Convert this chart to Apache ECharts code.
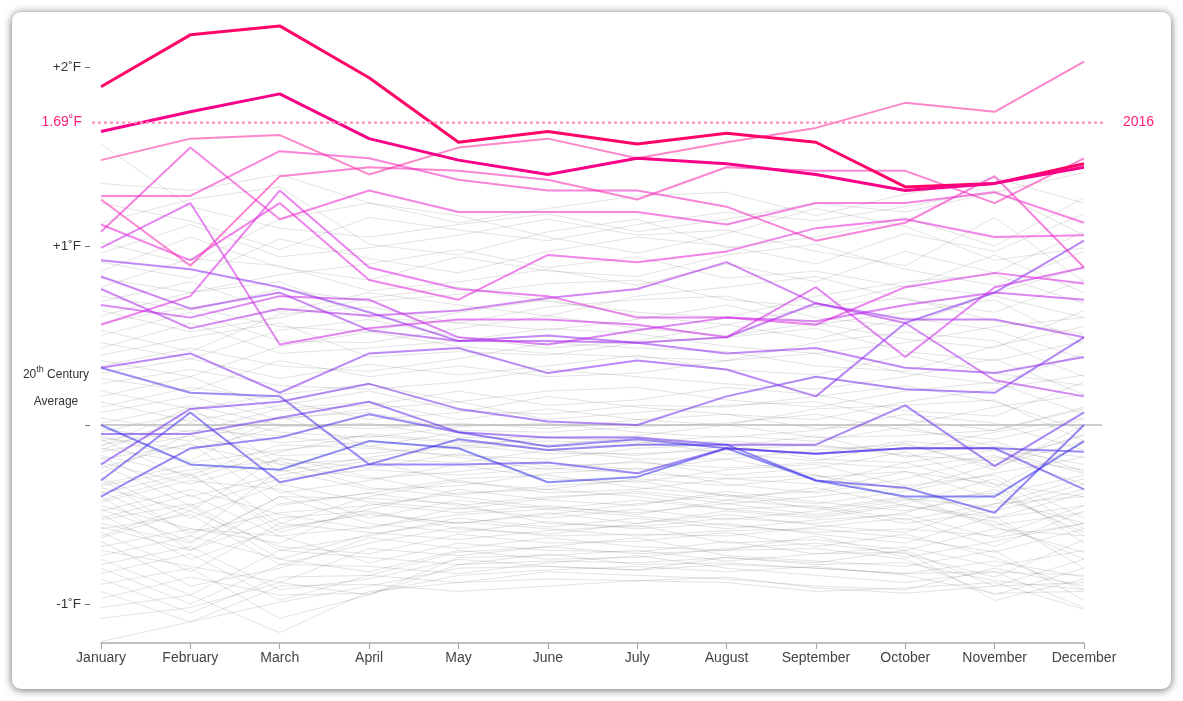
<!DOCTYPE html>
<html>
<head>
<meta charset="utf-8">
<script src="https://cdn.jsdelivr.net/npm/echarts@6/dist/echarts.min.js"></script>
<style>
html,body{margin:0;padding:0;background:#fff;width:1183px;height:701px;overflow:hidden;}
#card{position:absolute;left:12px;top:12px;width:1159px;height:677px;border-radius:9px;background:#fff;box-shadow:0 1px 9px rgba(0,0,0,0.6);}
#chart{position:absolute;left:0;top:0;width:1183px;height:701px;}
</style>
</head>
<body>
<div id="card"></div>
<div id="chart"></div>
<script>
// ---------- data ----------
const months = ['January','February','March','April','May','June','July','August','September','October','November','December'];
const yTickValues = [-1, 0, 1, 2];
const yLabelValues = [-1, 1, 2];
const yLabelTexts = ['-1˚F', '+1˚F', '+2˚F'];
const recordValue = 1.69;
const recordLabel = '1.69˚F';
const recordYear = '2016';
const baselineLine1 = '20';
const baselineSup = 'th';
const baselineLine1b = ' Century';
const baselineLine2 = 'Average';

// older years (gray), monthly anomaly in °F
const historicYears = [
[1.57,1.22,1.10,1.05,1.12,1.18,1.08,1.15,1.24,1.19,1.30,1.41],
[1.35,1.31,1.40,1.24,1.13,1.21,1.28,1.30,1.17,1.29,1.38,1.24],
[1.24,1.14,0.98,1.16,1.09,1.03,1.12,1.19,1.14,1.22,1.31,1.06],
[1.13,1.26,1.33,1.01,0.95,1.08,1.15,0.99,1.05,1.16,1.00,1.27],
[1.02,0.90,1.15,1.24,1.17,1.05,0.96,1.07,1.21,1.11,0.92,0.99],
[0.96,1.12,0.94,0.99,1.06,1.15,1.06,1.09,0.97,0.89,1.16,0.80],
[0.91,0.82,1.04,0.93,0.85,0.97,1.05,1.00,0.90,1.07,0.97,1.18],
[0.86,1.05,0.88,0.81,0.94,0.86,0.83,0.95,1.01,0.87,0.78,0.97],
[0.82,0.74,0.84,0.90,0.98,0.88,0.94,0.82,0.86,0.77,0.95,0.74],
[0.77,0.93,0.89,0.75,0.80,0.87,0.78,0.90,0.80,0.97,0.85,1.08],
[0.72,0.64,0.76,0.69,0.73,0.79,0.81,0.70,0.66,0.78,0.72,0.60],
[0.69,0.80,0.63,0.74,0.67,0.61,0.72,0.77,0.83,0.70,0.63,0.81],
[0.64,0.52,0.60,0.71,0.77,0.69,0.63,0.60,0.72,0.80,0.84,0.68],
[0.61,0.74,0.80,0.60,0.57,0.66,0.70,0.72,0.60,0.55,0.74,0.88],
[0.57,0.66,0.55,0.52,0.63,0.70,0.61,0.56,0.66,0.71,0.58,0.51],
[0.53,0.41,0.62,0.66,0.57,0.53,0.59,0.67,0.56,0.63,0.70,0.45],
[0.50,0.63,0.47,0.46,0.54,0.61,0.54,0.50,0.57,0.48,0.43,0.64],
[0.46,0.37,0.53,0.59,0.49,0.43,0.47,0.56,0.48,0.60,0.53,0.37],
[0.43,0.57,0.40,0.43,0.47,0.54,0.51,0.44,0.40,0.46,0.55,0.60],
[0.39,0.49,0.57,0.38,0.41,0.39,0.46,0.49,0.54,0.41,0.36,0.47],
[0.36,0.27,0.44,0.52,0.44,0.40,0.38,0.36,0.46,0.52,0.47,0.27],
[0.33,0.43,0.33,0.30,0.37,0.46,0.43,0.41,0.33,0.30,0.44,0.55],
[0.29,0.37,0.26,0.34,0.28,0.33,0.39,0.31,0.28,0.39,0.29,0.22],
[0.26,0.19,0.36,0.27,0.33,0.27,0.29,0.36,0.40,0.29,0.23,0.40],
[0.23,0.31,0.22,0.20,0.24,0.31,0.27,0.23,0.20,0.27,0.37,0.17],
[0.19,0.09,0.17,0.23,0.13,0.19,0.21,0.14,0.10,0.19,0.24,0.06],
[0.16,0.27,0.08,0.11,0.19,0.11,0.14,0.21,0.17,0.08,0.05,0.24],
[0.13,0.02,0.11,0.19,0.08,0.06,0.11,0.10,0.16,0.22,0.13,-0.03],
[0.10,0.21,0.14,0.03,0.07,0.16,0.10,0.06,0.03,0.13,0.20,0.28],
[0.07,0.16,0.03,0.09,0.13,0.03,0.07,0.11,0.13,0.03,-0.03,0.10],
[0.04,-0.04,0.09,0.13,0.03,0.09,0.03,0.00,0.09,0.11,0.14,-0.09],
[0.01,0.11,0.00,-0.02,0.01,-0.02,0.03,0.06,-0.02,0.00,0.10,0.17],
[-0.02,-0.09,0.04,0.07,-0.03,-0.04,-0.01,0.01,0.06,-0.03,-0.08,0.03],
[-0.04,0.07,-0.04,-0.07,-0.01,0.01,-0.04,-0.07,-0.03,0.06,0.01,-0.14],
[-0.07,-0.14,-0.01,0.01,-0.07,-0.07,-0.06,0.00,-0.07,-0.06,-0.03,0.09],
[-0.09,0.01,-0.10,-0.06,-0.10,-0.09,-0.10,-0.06,-0.09,-0.01,-0.12,-0.18],
[-0.11,-0.03,-0.06,-0.12,-0.04,-0.12,-0.11,-0.09,-0.12,-0.14,-0.04,0.04],
[-0.13,-0.21,-0.14,-0.09,-0.13,-0.11,-0.07,-0.13,-0.16,-0.09,-0.13,-0.22],
[-0.15,-0.06,-0.17,-0.16,-0.11,-0.16,-0.16,-0.14,-0.11,-0.17,-0.20,-0.06],
[-0.17,-0.28,-0.11,-0.13,-0.17,-0.19,-0.13,-0.11,-0.19,-0.21,-0.14,-0.27],
[-0.19,-0.11,-0.22,-0.19,-0.21,-0.14,-0.19,-0.19,-0.14,-0.11,-0.23,-0.09],
[-0.21,-0.33,-0.19,-0.24,-0.16,-0.23,-0.21,-0.24,-0.21,-0.24,-0.17,-0.33],
[-0.22,-0.45,-0.30,-0.25,-0.28,-0.24,-0.27,-0.30,-0.33,-0.21,-0.35,-0.10],
[-0.27,-0.05,-0.38,-0.31,-0.22,-0.30,-0.32,-0.25,-0.22,-0.34,-0.28,-0.52],
[-0.30,-0.62,-0.25,-0.36,-0.34,-0.27,-0.24,-0.33,-0.38,-0.30,-0.18,-0.25],
[-0.33,-0.22,-0.55,-0.40,-0.31,-0.38,-0.36,-0.30,-0.28,-0.41,-0.46,-0.33],
[-0.35,-0.48,-0.18,-0.29,-0.39,-0.34,-0.31,-0.40,-0.37,-0.26,-0.33,-0.66],
[-0.38,-0.27,-0.60,-0.47,-0.36,-0.42,-0.45,-0.37,-0.43,-0.48,-0.39,-0.28],
[-0.40,-0.70,-0.44,-0.38,-0.45,-0.40,-0.38,-0.44,-0.40,-0.35,-0.52,-0.45],
[-0.43,-0.31,-0.36,-0.52,-0.42,-0.47,-0.42,-0.47,-0.51,-0.44,-0.30,-0.58],
[-0.45,-0.58,-0.66,-0.44,-0.49,-0.45,-0.50,-0.42,-0.46,-0.55,-0.48,-0.36],
[-0.48,-0.36,-0.50,-0.58,-0.46,-0.52,-0.47,-0.53,-0.48,-0.41,-0.57,-0.71],
[-0.50,-0.75,-0.58,-0.49,-0.55,-0.49,-0.55,-0.50,-0.56,-0.60,-0.44,-0.40],
[-0.53,-0.44,-0.70,-0.62,-0.52,-0.57,-0.52,-0.58,-0.53,-0.50,-0.63,-0.55],
[-0.55,-0.66,-0.40,-0.55,-0.60,-0.54,-0.58,-0.55,-0.61,-0.66,-0.51,-0.80],
[-0.58,-0.50,-0.78,-0.66,-0.57,-0.62,-0.61,-0.62,-0.57,-0.52,-0.68,-0.48],
[-0.60,-0.82,-0.55,-0.60,-0.64,-0.59,-0.56,-0.66,-0.64,-0.70,-0.58,-0.62],
[-0.63,-0.48,-0.68,-0.72,-0.61,-0.66,-0.65,-0.60,-0.68,-0.61,-0.74,-0.92],
[-0.65,-0.90,-0.80,-0.63,-0.69,-0.63,-0.68,-0.70,-0.62,-0.74,-0.65,-0.55],
[-0.68,-0.58,-0.62,-0.77,-0.66,-0.70,-0.71,-0.65,-0.72,-0.68,-0.79,-0.70],
[-0.70,-0.79,-0.88,-0.69,-0.73,-0.68,-0.63,-0.73,-0.76,-0.79,-0.70,-0.98],
[-0.73,-0.62,-0.75,-0.82,-0.70,-0.75,-0.74,-0.69,-0.66,-0.72,-0.85,-0.64],
[-0.75,-0.95,-0.70,-0.74,-0.78,-0.72,-0.78,-0.77,-0.80,-0.83,-0.76,-0.85],
[-0.78,-0.68,-0.92,-0.86,-0.75,-0.79,-0.81,-0.74,-0.77,-0.70,-0.90,-0.75],
[-0.80,-1.00,-0.78,-0.79,-0.83,-0.77,-0.73,-0.80,-0.84,-0.88,-0.82,-1.02],
[-0.83,-0.72,-0.98,-0.84,-0.71,-0.68,-0.72,-0.70,-0.69,-0.75,-0.95,-0.80],
[-0.86,-1.05,-0.85,-0.84,-0.88,-0.82,-0.84,-0.86,-0.90,-0.92,-0.80,-0.90],
[-0.89,-0.80,-1.08,-0.95,-0.74,-0.73,-0.70,-0.76,-0.72,-0.71,-0.98,-0.86],
[-0.93,-1.10,-0.90,-0.89,-0.93,-0.90,-0.87,-0.88,-0.93,-0.91,-0.88,-1.03],
[-0.97,-0.85,-0.95,-0.94,-0.84,-0.81,-0.79,-0.82,-0.79,-0.84,-0.94,-0.93],
[-1.02,-0.95,-1.16,-0.93,-0.88,-0.86,-0.87,-0.85,-0.91,-0.94,-0.90,-0.88],
[-1.08,-1.02,-0.88,-0.95,-0.78,-0.76,-0.77,-0.74,-0.78,-0.77,-0.87,-0.92],
[-1.21,-1.10,-0.99,-0.90,-0.80,-0.79,-0.81,-0.78,-0.80,-0.83,-0.82,-0.84],
[-0.06,-0.20,0.05,-0.12,-0.18,-0.25,-0.20,-0.28,-0.24,-0.15,-0.33,-0.40],
[-0.12,0.10,-0.22,-0.30,-0.26,-0.21,-0.25,-0.19,-0.28,-0.36,-0.22,-0.05],
[-0.18,-0.40,-0.28,-0.20,-0.32,-0.36,-0.30,-0.34,-0.29,-0.26,-0.41,-0.55],
[-0.24,-0.10,-0.45,-0.38,-0.30,-0.28,-0.35,-0.39,-0.44,-0.37,-0.27,-0.18],
[-0.29,-0.52,-0.33,-0.43,-0.47,-0.41,-0.37,-0.42,-0.35,-0.45,-0.52,-0.38],
[-0.34,-0.25,-0.20,-0.35,-0.40,-0.46,-0.49,-0.44,-0.50,-0.42,-0.38,-0.60],
[-0.37,-0.60,-0.49,-0.45,-0.38,-0.36,-0.40,-0.47,-0.45,-0.53,-0.44,-0.30],
[-0.42,-0.28,-0.57,-0.50,-0.55,-0.50,-0.44,-0.39,-0.47,-0.40,-0.56,-0.49],
[-0.47,-0.65,-0.40,-0.41,-0.44,-0.55,-0.57,-0.52,-0.55,-0.49,-0.36,-0.62],
[-0.52,-0.39,-0.62,-0.57,-0.50,-0.47,-0.51,-0.56,-0.60,-0.58,-0.62,-0.45],
[-0.57,-0.70,-0.52,-0.48,-0.58,-0.61,-0.55,-0.48,-0.52,-0.45,-0.54,-0.75],
[-0.62,-0.45,-0.75,-0.61,-0.54,-0.58,-0.62,-0.59,-0.58,-0.63,-0.71,-0.58],
[-0.08,-0.30,-0.15,-0.05,-0.09,-0.14,-0.17,-0.12,-0.06,-0.18,-0.09,-0.26],
[-0.14,0.04,-0.26,-0.18,-0.12,-0.07,-0.09,-0.16,-0.20,-0.10,-0.25,0.00]
];

// recent years (coloured), monthly anomaly in °F
const recentYears = ['1998','1999','2000','2001','2002','2003','2004','2005','2006','2007','2008','2009','2010','2011','2012','2013','2014','2015','2016','2017'];
const recentValues = [
[0.00,-0.22,-0.25,-0.09,-0.13,-0.32,-0.29,-0.13,-0.31,-0.40,-0.40,-0.09],
[-0.31,0.07,-0.32,-0.22,-0.08,-0.14,-0.11,-0.11,-0.31,-0.35,-0.49,0.00],
[-0.40,-0.13,-0.07,0.06,-0.04,-0.12,-0.08,-0.13,-0.16,-0.13,-0.13,-0.15],
[0.32,0.18,0.16,-0.22,-0.22,-0.21,-0.27,-0.13,-0.16,-0.13,-0.13,-0.36],
[-0.05,-0.05,0.04,0.13,-0.04,-0.07,-0.07,-0.11,-0.11,0.11,-0.23,0.07],
[-0.22,0.09,0.13,0.23,0.09,0.02,0.00,0.16,0.27,0.20,0.18,0.49],
[0.32,0.40,0.18,0.40,0.43,0.29,0.36,0.31,0.16,0.57,0.74,1.03],
[0.92,0.87,0.77,0.63,0.47,0.50,0.46,0.40,0.43,0.32,0.29,0.38],
[0.83,0.65,0.74,0.53,0.47,0.47,0.46,0.49,0.68,0.59,0.59,0.49],
[0.76,0.54,0.65,0.61,0.64,0.71,0.76,0.91,0.68,0.57,0.25,0.16],
[0.67,0.60,0.72,0.70,0.49,0.45,0.53,0.60,0.58,0.67,0.74,0.70],
[0.99,1.24,0.45,0.54,0.59,0.59,0.56,0.49,0.77,0.38,0.77,0.88],
[0.56,0.72,1.31,0.88,0.76,0.72,0.60,0.60,0.56,0.77,0.85,0.79],
[1.12,0.92,1.24,0.81,0.70,0.95,0.91,0.97,1.10,1.15,1.05,1.06],
[1.08,1.55,1.15,1.31,1.19,1.19,1.19,1.12,1.24,1.24,1.30,1.13],
[1.28,1.28,1.53,1.49,1.37,1.31,1.31,1.22,1.03,1.13,1.39,0.88],
[1.26,0.89,1.39,1.44,1.42,1.37,1.26,1.44,1.42,1.42,1.24,1.49],
[1.48,1.60,1.62,1.40,1.55,1.60,1.49,1.58,1.66,1.80,1.75,2.03],
[1.89,2.18,2.23,1.94,1.58,1.64,1.57,1.63,1.58,1.33,1.35,1.46],
[1.64,1.75,1.85,1.60,1.48,1.40,1.49,1.46,1.40,1.31,1.35,1.44]
];
const boldYears = ['2016','2017'];

// ---------- styling ----------
const FONT = '"Liberation Sans", Arial, Helvetica, sans-serif';
const rampStops = [
  [0.00, [50, 50, 235]],
  [0.35, [140, 45, 238]],
  [0.65, [225, 35, 225]],
  [0.90, [255, 40, 160]],
  [1.00, [255, 0, 110]]
];
function ramp(t) {
  for (let i = 1; i < rampStops.length; i++) {
    if (t <= rampStops[i][0]) {
      const a = rampStops[i - 1], b = rampStops[i];
      const k = (t - a[0]) / (b[0] - a[0]);
      return a[1].map((c, j) => Math.round(c + (b[1][j] - c) * k));
    }
  }
  return rampStops[rampStops.length - 1][1];
}

const series = [];
historicYears.forEach((vals, i) => {
  series.push({
    type: 'line', name: 'h' + i, data: vals, symbol: 'none', silent: true,
    lineStyle: { color: 'rgba(70,70,70,0.15)', width: 1 }, z: 1
  });
});
const order = recentYears.map((y, i) => i).sort((a, b) => {
  const ba = boldYears.includes(recentYears[a]) ? 1 : 0;
  const bb = boldYears.includes(recentYears[b]) ? 1 : 0;
  return ba - bb || a - b;
});
order.forEach(i => {
  const bold = boldYears.includes(recentYears[i]);
  const t = i / (recentYears.length - 1);
  const c = bold ? (recentYears[i] === '2016' ? [255, 5, 105] : [248, 0, 135]) : ramp(t);
  series.push({
    type: 'line', name: recentYears[i], data: recentValues[i], symbol: 'none', silent: true,
    lineStyle: { color: `rgba(${c[0]},${c[1]},${c[2]},${bold ? 1 : 0.56})`, width: bold ? 3 : 2 },
    z: bold ? 4 : 3
  });
});

const chart = echarts.init(document.getElementById('chart'), null, { renderer: 'canvas' });
chart.setOption({
  animation: false,
  backgroundColor: 'transparent',
  textStyle: { fontFamily: FONT },
  grid: { left: 101, right: 99, top: 13, bottom: 58, containLabel: false },
  xAxis: {
    type: 'category', data: months, boundaryGap: false,
    axisLine: { onZero: false, lineStyle: { color: '#aaaaaa', width: 1.5 } },
    axisTick: { length: 6, lineStyle: { color: '#aaaaaa', width: 1.2 } },
    axisLabel: { color: '#444', fontSize: 14, margin: 8, fontFamily: FONT },
    splitLine: { show: false }
  },
  yAxis: {
    type: 'value', min: -1.218, max: 2.302, offset: 11,
    axisLine: { show: false },
    splitLine: { show: false },
    axisTick: { show: true, customValues: yTickValues, length: 5, lineStyle: { color: '#777', width: 1 } },
    axisLabel: {
      customValues: yLabelValues, margin: 9, color: '#333', fontSize: 13.5, fontFamily: FONT,
      formatter: v => { const k = yLabelValues.indexOf(Math.round(v)); return k >= 0 ? yLabelTexts[k] : ''; }
    }
  },
  series: series
});

// reference lines and annotations positioned through the chart's own scales
const pJan0 = chart.convertToPixel({ gridIndex: 0 }, [months[0], 0]);
const pDec0 = chart.convertToPixel({ gridIndex: 0 }, [months[11], 0]);
const pRec = chart.convertToPixel({ gridIndex: 0 }, [months[0], recordValue]);
chart.setOption({
  graphic: [
    { type: 'line', silent: true, z: 2, shape: { x1: pJan0[0], y1: pJan0[1], x2: pDec0[0] + 18, y2: pJan0[1] },
      style: { stroke: '#bdbdbd', lineWidth: 1.5 } },
    { type: 'line', silent: true, z: 10, shape: { x1: pJan0[0] - 9, y1: pRec[1], x2: pDec0[0] + 19, y2: pRec[1] },
      style: { stroke: '#ff8fbd', lineWidth: 2.2, lineDash: [3, 3] } },
    { type: 'text', silent: true, z: 10, x: pJan0[0] - 19, y: pRec[1],
      style: { text: recordLabel, fill: '#ff1f78', font: '14px ' + FONT, align: 'right', verticalAlign: 'middle' } },
    { type: 'text', silent: true, z: 10, x: pDec0[0] + 39, y: pRec[1],
      style: { text: recordYear, fill: '#ff1f78', font: '14px ' + FONT, align: 'left', verticalAlign: 'middle' } },
    { type: 'text', silent: true, z: 10, x: pJan0[0] - 45, y: pJan0[1] - 52,
      style: {
        text: '{a|' + baselineLine1 + '}{s|' + baselineSup + '}{a|' + baselineLine1b + '}',
        align: 'center', verticalAlign: 'middle',
        rich: {
          a: { fontSize: 12, fontFamily: FONT, fill: '#333', lineHeight: 16, verticalAlign: 'bottom' },
          s: { fontSize: 9, fontFamily: FONT, fill: '#333', lineHeight: 16, verticalAlign: 'top', padding: [0, 0, 6, 0] }
        }
      } },
    { type: 'text', silent: true, z: 10, x: pJan0[0] - 45, y: pJan0[1] - 23,
      style: { text: baselineLine2, fill: '#333', font: '12px ' + FONT, align: 'center', verticalAlign: 'middle' } }
  ]
});
</script>
</body>
</html>
